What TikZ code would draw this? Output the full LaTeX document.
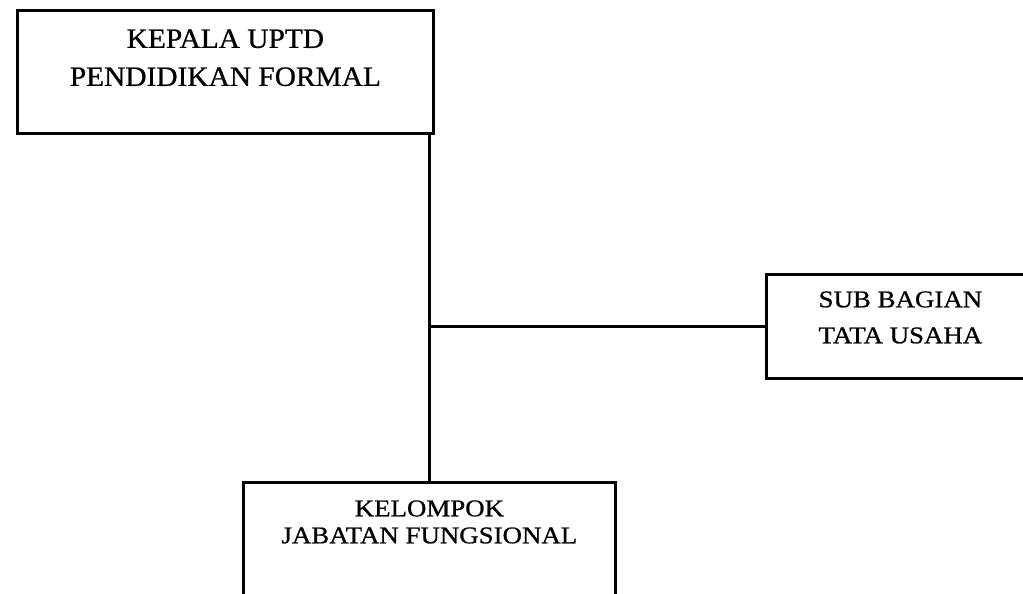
\documentclass[tikz,border=0pt]{standalone}
\usepackage{fontspec}
\setmainfont{Liberation Serif}
\newfontfamily\headfont[FakeStretch=1.05,FakeBold=0.8]{Liberation Serif}
\newfontfamily\unitfont[FakeStretch=1.12,FakeBold=0.8]{Liberation Serif}

\begin{document}
\begin{tikzpicture}[x=1pt,y=-1pt,
   unit/.style={draw=black,line width=2.8pt,inner sep=0pt,anchor=north west},
   link/.style={draw=black,line width=3.4pt}]
  \useasboundingbox (0,0) rectangle (1023,594);
  \node[unit] (kepala) at (16,9) {%
    \parbox[t][123pt][t]{416pt}{\centering\headfont\fontsize{28}{38}\selectfont
      \vspace*{19pt}KEPALA UPTD\\PENDIDIKAN FORMAL}};
  \node[unit] (subbag) at (765,273) {%
    \parbox[t][104pt][t]{268pt}{\centering\unitfont\fontsize{24}{36}\selectfont
      \vspace*{17pt}SUB BAGIAN\\TATA USAHA}};
  \node[unit] (kelompok) at (242,481) {%
    \parbox[t][140pt][t]{372pt}{\centering\unitfont\fontsize{24}{27}\selectfont
      \vspace*{18pt}KELOMPOK\\JABATAN FUNGSIONAL}};
  \draw[link] (kepala.south -| kelompok.north) -- (kelompok.north);
  \draw[link] (subbag.west) -- (subbag.west -| kelompok.north);
\end{tikzpicture}
\end{document}
